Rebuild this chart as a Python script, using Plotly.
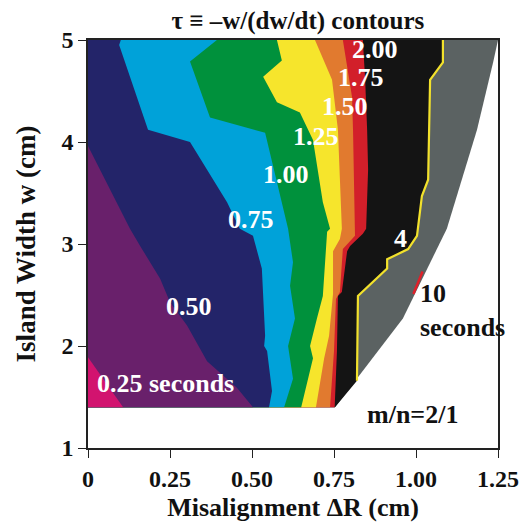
import plotly.graph_objects as go

# ---- contour boundaries (x = misalignment cm, w = island width cm) ----
W_BOTTOM = 1.4

b10_x = [1.25, 1.235, 1.186, 1.094, 0.96, 0.753]
b10_w = [5.0, 4.78, 4.12, 3.15, 2.27, 1.4]

b4_x = [1.082, 1.082, 1.043, 1.037, 1.018, 1.006, 1.003, 0.976, 0.912, 0.912, 0.823, 0.82, 0.753]
b4_w = [5.0, 4.78, 4.61, 3.63, 3.47, 3.15, 3.08, 2.95, 2.85, 2.76, 2.49, 1.66, 1.4]

b200_x = [0.838, 0.845, 0.851, 0.854, 0.848, 0.838, 0.799, 0.790, 0.774, 0.762, 0.759, 0.752]
b200_w = [5.0, 4.61, 4.12, 3.73, 3.15, 3.10, 2.98, 2.93, 2.53, 2.49, 1.95, 1.4]

b175_x = [0.777, 0.805, 0.808, 0.814, 0.814, 0.777, 0.768, 0.756, 0.750, 0.738]
b175_w = [5.0, 4.44, 4.12, 3.15, 3.08, 2.95, 2.53, 2.46, 1.95, 1.4]

b150_x = [0.692, 0.744, 0.762, 0.774, 0.768, 0.747, 0.747, 0.735, 0.720, 0.695]
b150_w = [5.0, 4.61, 4.12, 3.15, 3.05, 2.93, 2.51, 2.10, 1.88, 1.4]

b125_x = [0.576, 0.591, 0.534, 0.576, 0.646, 0.686, 0.716, 0.738, 0.729, 0.716, 0.698, 0.677, 0.686, 0.650]
b125_w = [5.0, 4.80, 4.64, 4.39, 4.29, 4.02, 3.41, 3.15, 3.12, 2.49, 2.27, 2.0, 1.88, 1.4]

b100_x = [0.393, 0.311, 0.372, 0.540, 0.610, 0.625, 0.616, 0.631, 0.610, 0.625, 0.598]
b100_w = [5.0, 4.79, 4.24, 4.09, 3.15, 2.82, 2.59, 2.27, 2.0, 1.68, 1.4]

b075_x = [0.100, 0.095, 0.183, 0.311, 0.424, 0.463, 0.503, 0.530, 0.540, 0.537, 0.546, 0.561, 0.552]
b075_w = [5.0, 4.95, 4.12, 4.0, 3.41, 3.15, 3.08, 2.76, 2.10, 2.0, 1.95, 1.56, 1.4]

b050_x = [0.0, 0.128, 0.159, 0.220, 0.250, 0.302, 0.363, 0.454, 0.503]
b050_w = [3.96, 3.15, 2.98, 2.66, 2.43, 2.2, 1.85, 1.59, 1.4]

b025_x = [0.0, 0.107]
b025_w = [1.89, 1.4]

red10_x = [0.992, 1.020]
red10_w = [2.51, 2.73]

# colour of the region on the low-x side of each boundary
region_colors = ["#5b6262", "#141414", "#d21f2a", "#e17a2f", "#f6e52c",
                 "#00913c", "#00a2d9", "#232469", "#69206b", "#d2136f"]
boundaries = [(b10_x, b10_w), (b4_x, b4_w), (b200_x, b200_w), (b175_x, b175_w),
              (b150_x, b150_w), (b125_x, b125_w), (b100_x, b100_w), (b075_x, b075_w),
              (b050_x, b050_w), (b025_x, b025_w)]

fig = go.Figure()
for (bx, bw), col in zip(boundaries, region_colors):
    px = list(bx) + [0.0, 0.0, bx[0]]
    py = list(bw) + [W_BOTTOM, bw[0], bw[0]]
    fig.add_trace(go.Scatter(x=px, y=py, mode="lines", fill="toself", fillcolor=col,
                             line=dict(width=0, color=col), hoverinfo="skip", showlegend=False))

# yellow 4-second contour line
fig.add_trace(go.Scatter(x=b4_x[:-1], y=b4_w[:-1], mode="lines",
                         line=dict(color="#f2e12c", width=2.2), hoverinfo="skip", showlegend=False))
# small red piece of the 10 s contour
fig.add_trace(go.Scatter(x=red10_x, y=red10_w, mode="lines",
                         line=dict(color="#e0202a", width=2.5), hoverinfo="skip", showlegend=False))

FONT = "Liberation Serif, Times New Roman, serif"

labels = [("2.00", 0.875, 4.91), ("1.75", 0.832, 4.63), ("1.50", 0.784, 4.35),
          ("1.25", 0.695, 4.05), ("1.00", 0.604, 3.68), ("0.75", 0.497, 3.24),
          ("0.50", 0.308, 2.39), ("0.25 seconds", 0.235, 1.63), ("4", 0.954, 3.05)]
for txt, x, y in labels:
    fig.add_annotation(x=x, y=y, xref="x", yref="y", text=txt, showarrow=False,
                       font=dict(family=FONT, size=26, color="white", weight="bold"))

fig.add_annotation(x=1.005, y=2.35, xref="x", yref="y", text="10<br>seconds", showarrow=False,
                   xanchor="left", align="left",
                   font=dict(family=FONT, size=26, color="#111", weight="bold"))
fig.add_annotation(x=0.988, y=1.33, xref="x", yref="y", text="m/n=2/1", showarrow=False,
                   font=dict(family=FONT, size=26, color="#111", weight="bold"))

x_ticks = [0, 0.25, 0.5, 0.75, 1.0, 1.25]
x_ticktext = ["0", "0.25", "0.50", "0.75", "1.00", "1.25"]
y_ticks = [1, 2, 3, 4, 5]

fig.update_layout(
    width=532, height=529,
    margin=dict(l=88, r=34, t=40, b=79),
    paper_bgcolor="white", plot_bgcolor="white",
    title=dict(text="τ ≡ –w/(dw/dt) contours", x=0.512, xref="paper", y=0.962, yanchor="middle",
               font=dict(family=FONT, size=25, color="#111", weight="bold")),
    xaxis=dict(range=[0, 1.25], tickvals=x_ticks, ticktext=x_ticktext,
               ticks="outside", ticklen=8, tickcolor="#222", tickwidth=1,
               showline=True, linecolor="#222", linewidth=1.5, mirror=True,
               showgrid=False, zeroline=False,
               tickfont=dict(family=FONT, size=24, color="#111", weight="bold"),
               title=dict(text="Misalignment ΔR (cm)", standoff=7,
                          font=dict(family=FONT, size=26, color="#111", weight="bold"))),
    yaxis=dict(range=[1, 5], tickvals=y_ticks,
               ticks="outside", ticklen=8, tickcolor="#222", tickwidth=1,
               showline=True, linecolor="#222", linewidth=1.5, mirror=True,
               showgrid=False, zeroline=False,
               tickfont=dict(family=FONT, size=24, color="#111", weight="bold"),
               title=dict(text="Island Width w (cm)", standoff=18,
                          font=dict(family=FONT, size=27, color="#111", weight="bold"))),
)

fig.write_html("out.html")
